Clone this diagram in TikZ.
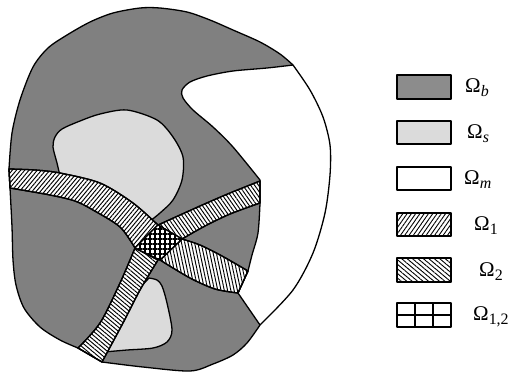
\documentclass[tikz,border=0pt]{standalone}
\usepackage{fontspec}
\setmainfont{Liberation Serif}
\usetikzlibrary{patterns.meta}
\colorlet{dgray}{black!50}
\colorlet{lgray}{black!14}
\newcommand\omlab[1]{{\fontsize{21}{24}\selectfont Ω\raisebox{-0.2em}{\fontsize{16}{18}\selectfont #1}}}
\begin{document}
\begin{tikzpicture}[x=1bp,y=-1bp,line join=round,
  edge/.style={line width=1.3pt},
  hatchA/.style={pattern={Lines[angle=50,distance=3.2bp,line width=0.95bp]}},
  hatchB/.style={pattern={Lines[angle=-55,distance=3.2bp,line width=0.95bp]}},
  hatchC/.style={pattern={Lines[angle=-78,distance=3.2bp,line width=0.95bp]}},
  hatchD/.style={pattern={Lines[angle=-40,distance=3.2bp,line width=0.95bp]}},
  gridH/.style={pattern={Lines[angle=0,distance=5bp,line width=1.3bp]}},
  gridV/.style={pattern={Lines[angle=90,distance=5bp,line width=1.3bp]}},
  legbox/.style={draw,line width=1.2pt},
  leglab/.style={anchor=base west,inner sep=0pt}]
\useasboundingbox (0,0) rectangle (512,374);
% key points
\coordinate (N) at (158,225);
\coordinate (E) at (182,239);
\coordinate (S) at (160,260);
\coordinate (W) at (135,248);
% outer gray region
\fill[dgray] plot[smooth] coordinates {(9,169) (12,133) (20,100) (33,67) (48,48) (67,35) (90,22) (113,13) (140,8) (160,8) (187,12) (210,20) (233,30) (260,42) (280,54) (293,65)}
 -- plot[smooth] coordinates {(293,65) (310,90) (323,117) (330,145) (330,175) (325,213) (313,253) (293,290) (260,325)}
 -- plot[smooth] coordinates {(260,325) (247,343) (233,355) (213,364) (190,371) (143,367) (102,362)}
 -- (78,348)
 -- plot[smooth] coordinates {(78,348) (60,340) (40,327) (24,308) (16,285) (13,260) (12,227) (10,188)}
 -- cycle;
% white region
\fill[white] plot[smooth] coordinates {(293,65) (267,68) (233,71) (207,76) (190,82) (182,90) (183,98) (193,110) (213,127) (233,147) (260,180)}
 -- (260,203) -- plot[smooth] coordinates {(260,203) (258,233) (252,255) (248,271)} -- (238,293) -- (260,325)
 -- plot[smooth] coordinates {(260,325) (293,290) (313,253) (325,213) (330,175) (330,145) (323,117) (310,90) (293,65)} -- cycle;
% light blobs
\filldraw[fill=lgray,edge] plot[smooth] coordinates {(60,176) (57,163) (53,147) (55,137) (62,129) (80,121) (100,114) (127,110) (157,120) (173,137) (183,157) (182,180) (173,200) (160,213) (150,221)} -- (135,212) -- (100,192) -- (62,182) -- cycle;
\filldraw[fill=lgray,edge] plot[smooth] coordinates {(149,278) (157,280) (162,286) (167,303) (172,330) (167,342) (153,348) (127,350) (104,352)} -- (112,333) -- (133,295) -- cycle;
% strips
\filldraw[fill=white,edge] plot[smooth] coordinates {(9,169) (35,170) (60,173) (100,183) (133,203) (158,225)} -- (W)
 -- plot[smooth] coordinates {(135,248) (120,227) (93,210) (75,201) (50,195) (10,188)} -- cycle;
\fill[hatchA] plot[smooth] coordinates {(9,169) (35,170) (60,173) (100,183) (133,203) (158,225)} -- (W)
 -- plot[smooth] coordinates {(135,248) (120,227) (93,210) (75,201) (50,195) (10,188)} -- cycle;
\filldraw[fill=white,edge] (N) -- plot[smooth] coordinates {(158,225) (200,206) (230,193) (260,181)} -- (260,203)
 -- plot[smooth] coordinates {(260,203) (230,214) (205,226) (182,239)} -- cycle;
\fill[hatchB] (N) -- plot[smooth] coordinates {(158,225) (200,206) (230,193) (260,181)} -- (260,203)
 -- plot[smooth] coordinates {(260,203) (230,214) (205,226) (182,239)} -- cycle;
\filldraw[fill=white,edge] (E) -- plot[smooth] coordinates {(182,239) (200,245) (222,256) (248,271)} -- (238,293)
 -- plot[smooth] coordinates {(238,293) (215,289) (190,278) (160,260)} -- cycle;
\fill[hatchC] (E) -- plot[smooth] coordinates {(182,239) (200,245) (222,256) (248,271)} -- (238,293)
 -- plot[smooth] coordinates {(238,293) (215,289) (190,278) (160,260)} -- cycle;
\filldraw[fill=white,edge] (W) -- plot[smooth] coordinates {(135,248) (120,283) (100,323) (78,348)} -- (102,362)
 -- plot[smooth] coordinates {(102,362) (123,323) (140,290) (158,260)} -- cycle;
\fill[hatchD] (W) -- plot[smooth] coordinates {(135,248) (120,283) (100,323) (78,348)} -- (102,362)
 -- plot[smooth] coordinates {(102,362) (123,323) (140,290) (158,260)} -- cycle;
% strip outlines redrawn over hatching
\draw[edge] plot[smooth] coordinates {(9,169) (35,170) (60,173) (100,183) (133,203) (158,225)} -- (W)
 -- plot[smooth] coordinates {(135,248) (120,227) (93,210) (75,201) (50,195) (10,188)} -- cycle;
\draw[edge] (N) -- plot[smooth] coordinates {(158,225) (200,206) (230,193) (260,181)} -- (260,203)
 -- plot[smooth] coordinates {(260,203) (230,214) (205,226) (182,239)} -- cycle;
\draw[edge] (E) -- plot[smooth] coordinates {(182,239) (200,245) (222,256) (248,271)} -- (238,293)
 -- plot[smooth] coordinates {(238,293) (215,289) (190,278) (160,260)} -- cycle;
\draw[edge] (W) -- plot[smooth] coordinates {(135,248) (120,283) (100,323) (78,348)} -- (102,362)
 -- plot[smooth] coordinates {(102,362) (123,323) (140,290) (158,260)} -- cycle;
% center
\fill[white] (N) -- (E) -- (S) -- (W) -- cycle;
\fill[gridH] (N) -- (E) -- (S) -- (W) -- cycle;
\fill[gridV] (N) -- (E) -- (S) -- (W) -- cycle;
\draw[edge] (N) -- (E) -- (S) -- (W) -- cycle;
% outlines
\draw[edge] plot[smooth] coordinates {(9,169) (12,133) (20,100) (33,67) (48,48) (67,35) (90,22) (113,13) (140,8) (160,8) (187,12) (210,20) (233,30) (260,42) (280,54) (293,65)}
 -- plot[smooth] coordinates {(293,65) (310,90) (323,117) (330,145) (330,175) (325,213) (313,253) (293,290) (260,325)}
 -- plot[smooth] coordinates {(260,325) (247,343) (233,355) (213,364) (190,371) (143,367) (102,362)}
 -- (78,348)
 -- plot[smooth] coordinates {(78,348) (60,340) (40,327) (24,308) (16,285) (13,260) (12,227) (10,188)}
 -- cycle;
\draw[edge] plot[smooth] coordinates {(293,65) (267,68) (233,71) (207,76) (190,82) (182,90) (183,98) (193,110) (213,127) (233,147) (260,180)}
 -- (260,203) -- plot[smooth] coordinates {(260,203) (258,233) (252,255) (248,271)} -- (238,293) -- (260,325);
% legend
\draw[legbox,fill=black!45] (397,75) rectangle (451,99);
\draw[legbox,fill=lgray] (397,121) rectangle (451,144);
\draw[legbox,fill=white] (397,167) rectangle (451,190);
\fill[pattern={Lines[angle=55,distance=3.5bp,line width=0.9bp]}] (397,213) rectangle (451,236);
\draw[legbox] (397,213) rectangle (451,236);
\fill[pattern={Lines[angle=-40,distance=3.5bp,line width=0.9bp]}] (397,258) rectangle (451,282);
\draw[legbox] (397,258) rectangle (451,282);
\draw[legbox] (397,303) rectangle (451,327);
\draw[line width=1.3pt] (415,303) -- (415,327) (433,303) -- (433,327) (397,315) -- (451,315);
\node[leglab] (lb) at (465,92) {\omlab{\textit{b}}};
\node[leglab] (ls) at (467,138) {\omlab{\textit{s}}};
\node[leglab] (lm) at (464,184) {\omlab{\textit{m}}};
\node[leglab] (l1) at (474,230) {\omlab{1}};
\node[leglab] (l2) at (479,276) {\omlab{2}};
\node[leglab] (l12) at (473,320) {\omlab{1,2}};
\end{tikzpicture}
\end{document}
